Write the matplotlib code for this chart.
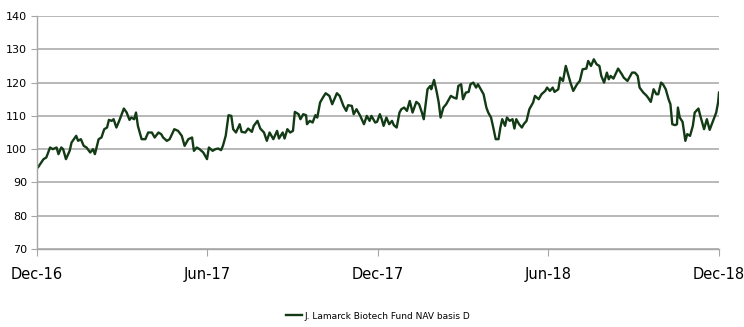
import datetime as dt
import matplotlib
matplotlib.use("Agg")
import matplotlib.pyplot as plt
import matplotlib.dates as mdates

plt.rcParams['font.family'] = ['Liberation Sans Narrow', 'DejaVu Sans']

start = dt.date(2016, 12, 1)

# days since 1 Dec 2016
days = [0, 1, 7, 10, 14, 17, 21, 23, 26, 28, 31, 35, 37, 42, 44, 47, 50, 53, 57, 60,
        62, 66, 69, 72, 75, 77, 80, 82, 85, 88, 93, 96, 99, 101, 104, 106, 108, 112,
        116, 119, 123, 126, 130, 133, 135, 139, 142, 147, 151, 155, 158, 162, 166,
        168, 171, 174, 178, 182, 184, 188, 191, 194, 197, 199, 202, 205, 208, 210,
        213, 217, 219, 223, 226, 230, 232, 236, 239, 243, 246, 249, 253, 257, 259,
        263, 265, 268, 271, 274, 276, 280, 282, 285, 288, 289, 292, 295, 298, 300,
        303, 306, 309, 313, 316, 321, 324, 328, 331, 333, 337, 339, 342, 346, 350,
        353, 356, 358, 362, 364, 367, 369, 371, 374, 377, 380, 382, 385, 388, 390,
        393, 396, 399, 402, 406, 409, 412, 414, 418, 421, 422, 425, 428, 430, 432,
        435, 438, 440, 443, 446, 449, 451, 454, 456, 459, 462, 464, 467, 470, 472,
        475, 478, 481, 483, 486, 488, 491, 494, 496, 498, 501, 503, 506, 509, 511,
        513, 516, 519, 521, 524, 527, 531, 533, 537, 540, 544, 546, 549, 552, 554,
        558, 560, 563, 566, 569, 571, 574, 578, 581, 584, 588, 590, 593, 596, 599,
        602, 604, 607, 610, 612, 614, 617, 620, 622, 626, 628, 632, 635, 637, 640,
        643, 645, 649, 652, 654, 657, 660, 663, 665, 668, 670, 673, 676, 678, 680,
        683, 685, 686, 688, 691, 694, 696, 699, 702, 704, 708, 710, 714, 717, 720,
        723, 727, 729, 730]

nav = [94.5, 94.5, 97, 97.5, 100.5, 100, 100.5, 98.5, 100.5, 100, 97, 99.5, 102, 104,
       102.5, 103, 101, 100.5, 99, 100, 98.5, 103, 103.5, 106, 106.5, 108.8, 108.5,
       109, 106.5, 108.5, 112.2, 111, 108.8, 109.5, 109, 111, 107, 103, 103, 105,
       105, 103.5, 105, 104.5, 103.5, 102.5, 103, 106, 105.5, 104, 101, 103, 103.5,
       99.5, 100.5, 100, 99, 97, 100.5, 99.5, 100, 100.2, 99.7, 101, 104, 110.2,
       110, 106, 105, 107.5, 105.2, 105, 106.2, 105.2, 107, 108.5, 106.2, 105,
       102.5, 105, 103, 105.5, 103.2, 105, 103.2, 106, 105, 105.5, 111.2, 110.5,
       109, 110.5, 110.2, 107.5, 108.5, 108, 110.2, 109.5, 114, 115.5, 116.8, 116,
       113.5, 116.8, 116, 113, 111.5, 113.2, 113, 110.5, 112, 110, 107.5, 110,
       108.5, 110, 108, 108.2, 110.5, 109, 107, 109.5, 107.5, 108.5, 107.2, 106.5,
       111, 112, 112.5, 111.5, 114.5, 111, 114.2, 113.5, 111, 109, 118, 119, 118,
       120.8, 117, 114, 109.5, 112.5, 113.5, 114.5, 116, 115.5, 115.2, 119, 119.5,
       115, 117, 117.2, 119.5, 120, 118.5, 119.5, 118, 116.5, 112.5, 111, 109.5,
       107, 103, 103, 106.5, 109, 107, 109.5, 108.5, 109, 106.2, 109, 107.5, 106.5,
       107.5, 108.5, 112, 114, 116, 115, 116.5, 117.5, 118.5, 117.5, 118.5, 117.2,
       118, 121.5, 120.5, 125, 122, 120, 117.5, 119.5, 120.5, 124, 124.2, 126.5,
       125, 127, 125.5, 125, 122, 120, 123, 121, 122, 121.2, 123, 124.2, 122.5,
       121.5, 120.5, 122, 123, 123, 122, 118.5, 117, 116.2, 115.5, 114.2, 118,
       116.5, 116.5, 120, 119.5, 118, 115, 113.5, 107.5, 107.2, 107.5, 112.5, 109.5,
       108.2, 102.5, 104.5, 104, 107, 111, 112.2, 110, 106, 109, 105.8, 108, 111,
       114, 117]

series_name = "J. Lamarck Biotech Fund NAV basis D"
tick_dates = [dt.date(2016, 12, 1), dt.date(2017, 6, 1), dt.date(2017, 12, 1),
              dt.date(2018, 6, 1), dt.date(2018, 12, 1)]
y_ticks = [70, 80, 90, 100, 110, 120, 130, 140]

dates = [start + dt.timedelta(days=d) for d in days]

fig = plt.figure(figsize=(7.44, 3.27), dpi=100)
ax = fig.add_axes([0.0497, 0.2385, 0.9167, 0.7125])

ax.plot(dates, nav, color='#123a14', lw=1.7, label=series_name)

ax.set_xlim(tick_dates[0], tick_dates[-1])
ax.set_ylim(70, 140)
ax.set_yticks(y_ticks)
ax.set_xticks(tick_dates)
ax.xaxis.set_major_formatter(mdates.DateFormatter('%b-%y'))

ax.grid(axis='y', color='#ababab', lw=1.2)
ax.set_axisbelow(True)
for s in ['top', 'right']:
    ax.spines[s].set_visible(False)
for s in ['left', 'bottom']:
    ax.spines[s].set_color('#a6a6a6')
    ax.spines[s].set_linewidth(1.0)

ax.tick_params(axis='x', colors='#a6a6a6', labelcolor='black', labelsize=10.5,
               length=5, pad=8)
ax.tick_params(axis='y', colors='#a6a6a6', labelcolor='black', labelsize=8,
               length=4, pad=3)

fig.legend(loc='lower center', bbox_to_anchor=(0.508, -0.005), frameon=False,
           fontsize=6.5, handlelength=1.8, handletextpad=0.2)

fig.savefig('out.png', dpi=100)
